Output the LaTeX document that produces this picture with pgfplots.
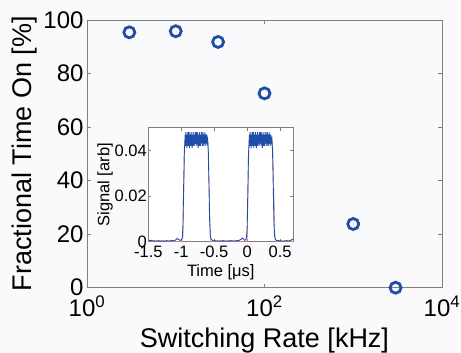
\documentclass[border=0pt]{standalone}
\usepackage{pgfplots}
\pgfplotsset{compat=1.18}
\usepackage{fontspec}
\setmainfont{Liberation Sans}
\definecolor{mblue}{RGB}{30,78,168}
\definecolor{bg}{RGB}{250,250,252}
\definecolor{axgrey}{RGB}{128,128,128}
\begin{document}
\begin{tikzpicture}[x=1pt,y=1pt]
\fill[bg] (0,0) rectangle (461,353);
\useasboundingbox (0,0) rectangle (461,353);
\begin{axis}[
  at={(87pt,65.3pt)}, anchor=south west,
  scale only axis, width=355pt, height=267.7pt,
  xmode=log, xmin=1, xmax=10000, ymin=0, ymax=100,
  xtick={1,100,10000},
  xticklabels={10\textsuperscript{0},10\textsuperscript{2},10\textsuperscript{4}},
  minor xtick={}, 
  ytick={0,20,40,60,80,100},
  yticklabels={0,20,40,60,80,100},
  tick align=inside, major tick length=4pt,
  axis line style={axgrey, line width=0.8pt},
  tick style={axgrey, line width=0.6pt},
  axis background/.style={fill=bg},
  tick label style={font=\fontsize{24}{24}\selectfont, black},
  label style={font=\fontsize{27}{27}\selectfont, black},
  xticklabel style={yshift=-5pt},
  xlabel={Switching Rate [kHz]},
  ylabel={Fractional Time On [\%]},
  xlabel style={yshift=-4pt},
  ylabel style={yshift=-1pt},
  clip=false,
]
\addplot[only marks, mark=o, mark size=5.5pt, mblue, line width=2.8pt]
  coordinates {(3,95.4) (10,95.8) (30,91.8) (100,72.6) (1000,23.8) (3000,0)};
\end{axis}
\begin{axis}[
  at={(148.3pt,111.3pt)}, anchor=south west,
  scale only axis, width=145pt, height=114pt,
  xmin=-1.5, xmax=0.7, ymin=0, ymax=0.05,
  scaled y ticks=false, scaled x ticks=false,
  xtick={-1.5,-1,-0.5,0,0.5},
  xticklabels={-1.5,-1,-0.5,0,0.5},
  ytick={0,0.02,0.04},
  yticklabels={0,0.02,0.04},
  tick align=inside, major tick length=3pt,
  axis line style={axgrey, line width=0.7pt},
  tick style={axgrey, line width=0.5pt},
  axis background/.style={fill=white},
  tick label style={font=\fontsize{16.5}{16.5}\selectfont, black},
  label style={font=\fontsize{16.5}{16.5}\selectfont, black},
  xlabel={Time [μs]},
  ylabel={Signal [arb]},
  xticklabel style={yshift=-1pt},
  yticklabel style={xshift=2pt},
  xlabel style={yshift=0pt},
  ylabel style={yshift=-5pt},
]
\addplot[red!50, line width=0.5pt] coordinates {
(-1.5,0) (-0.975,0) (-0.945,0.0445) (-0.595,0.0445) (-0.555,0) (0.0,0) (0.03,0.0445) (0.385,0.0445) (0.425,0) (0.7,0)};
\addplot[mblue, line width=0.9pt] coordinates {
(-1.5,0.0008) (-1.48,0.0004) (-1.46,0.0006) (-1.44,0.0003) (-1.42,0.0005) (-1.40,0.0002) (-1.38,0.0004) (-1.36,0.0003) (-1.34,0.0005) (-1.32,0.0002) (-1.30,0.0004) (-1.28,0.0003) (-1.26,0.0004) (-1.24,0.0002) (-1.22,0.0005) (-1.20,0.0003) (-1.18,0.0004) (-1.16,0.0003) (-1.14,0.0006) (-1.12,0.0004) (-1.10,0.0005) (-1.08,0.0009) (-1.06,0.0014) (-1.04,0.0010) (-1.02,0.0006) (-1.00,0.0008) (-0.985,0.0015) (-0.975,0.006) (-0.965,0.022) (-0.955,0.038)
(-0.945,0.044) (-0.94,0.047) (-0.935,0.042) (-0.93,0.048) (-0.925,0.043) (-0.92,0.046) (-0.915,0.041) (-0.91,0.047) (-0.905,0.043) (-0.90,0.048) (-0.895,0.042) (-0.89,0.046) (-0.885,0.044) (-0.88,0.048) (-0.875,0.041) (-0.87,0.047) (-0.865,0.043) (-0.86,0.046) (-0.855,0.042) (-0.85,0.048) (-0.845,0.044) (-0.84,0.047) (-0.835,0.041) (-0.83,0.046) (-0.825,0.043) (-0.82,0.048) (-0.815,0.042) (-0.81,0.047) (-0.805,0.044) (-0.80,0.046) (-0.795,0.042) (-0.79,0.048) (-0.785,0.043) (-0.78,0.047) (-0.775,0.044) (-0.77,0.048) (-0.765,0.042) (-0.76,0.046) (-0.755,0.043) (-0.75,0.048) (-0.745,0.041) (-0.74,0.047) (-0.735,0.044) (-0.73,0.046) (-0.725,0.042) (-0.72,0.048) (-0.715,0.043) (-0.71,0.047) (-0.705,0.042) (-0.70,0.046) (-0.695,0.044) (-0.69,0.048) (-0.685,0.043) (-0.68,0.047) (-0.675,0.042) (-0.67,0.048) (-0.665,0.044) (-0.66,0.046) (-0.655,0.042) (-0.65,0.047) (-0.645,0.043) (-0.64,0.048) (-0.635,0.044) (-0.63,0.046) (-0.625,0.042) (-0.62,0.047) (-0.615,0.043) (-0.61,0.046) (-0.605,0.044) (-0.60,0.045)
(-0.59,0.040) (-0.58,0.026) (-0.57,0.010) (-0.56,0.003) (-0.55,0.0012) (-0.53,0.0006) (-0.51,0.0004) (-0.49,0.0005) (-0.47,0.0003) (-0.45,0.0004) (-0.43,0.0002) (-0.41,0.0004) (-0.39,0.0003) (-0.37,0.0005) (-0.35,0.0003) (-0.33,0.0004) (-0.31,0.0002) (-0.29,0.0004) (-0.27,0.0003) (-0.25,0.0005) (-0.23,0.0003) (-0.21,0.0004) (-0.19,0.0003) (-0.17,0.0004) (-0.15,0.0005) (-0.13,0.0004) (-0.11,0.0008) (-0.09,0.0011) (-0.07,0.0016) (-0.05,0.0010) (-0.035,0.0006) (-0.02,0.0009) (-0.01,0.0018) (0.0,0.006) (0.01,0.022) (0.02,0.038)
(0.03,0.044) (0.035,0.047) (0.04,0.042) (0.045,0.048) (0.05,0.043) (0.055,0.046) (0.06,0.041) (0.065,0.047) (0.07,0.043) (0.075,0.048) (0.08,0.042) (0.085,0.046) (0.09,0.044) (0.095,0.048) (0.10,0.041) (0.105,0.047) (0.11,0.043) (0.115,0.046) (0.12,0.042) (0.125,0.048) (0.13,0.044) (0.135,0.047) (0.14,0.041) (0.145,0.046) (0.15,0.043) (0.155,0.048) (0.16,0.042) (0.165,0.047) (0.17,0.044) (0.175,0.046) (0.18,0.042) (0.185,0.048) (0.19,0.043) (0.195,0.047) (0.20,0.044) (0.205,0.048) (0.21,0.042) (0.215,0.046) (0.22,0.043) (0.225,0.048) (0.23,0.041) (0.235,0.047) (0.24,0.044) (0.245,0.046) (0.25,0.042) (0.255,0.048) (0.26,0.043) (0.265,0.047) (0.27,0.042) (0.275,0.046) (0.28,0.044) (0.285,0.048) (0.29,0.043) (0.295,0.047) (0.30,0.042) (0.305,0.048) (0.31,0.044) (0.315,0.046) (0.32,0.042) (0.325,0.047) (0.33,0.043) (0.335,0.048) (0.34,0.044) (0.345,0.046) (0.35,0.042) (0.355,0.047) (0.36,0.043) (0.365,0.046) (0.37,0.044) (0.375,0.045)
(0.385,0.040) (0.395,0.026) (0.405,0.010) (0.415,0.003) (0.425,0.0012) (0.44,0.0006) (0.46,0.0004) (0.48,0.0005) (0.50,0.0003) (0.52,0.0004) (0.54,0.0002) (0.56,0.0004) (0.58,0.0003) (0.60,0.0005) (0.62,0.0003) (0.64,0.0004) (0.66,0.0006) (0.68,0.0009) (0.70,0.0012)};
\end{axis}
\end{tikzpicture}
\end{document}
